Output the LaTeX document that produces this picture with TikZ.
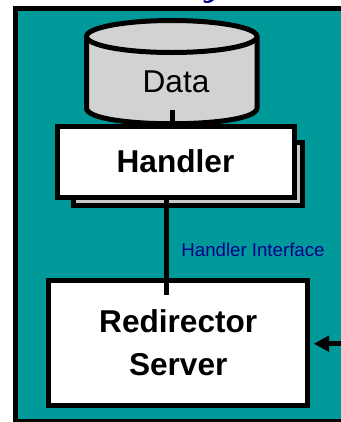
\documentclass[tikz,border=0pt]{standalone}
\usepackage{fontspec}
\setmainfont{Liberation Sans}
\usetikzlibrary{arrows.meta}
\definecolor{tealbg}{RGB}{0,153,153}
\definecolor{datagray}{RGB}{210,210,210}
\definecolor{backgray}{RGB}{200,200,200}
\definecolor{ifaceblue}{RGB}{0,0,140}
\tikzset{
	thickline/.style={line width=3.75pt},
	whitebox/.style={
		draw, thickline, fill=white, align=center, inner sep=0pt,
		font=\bfseries\fontsize{23.7}{32.25}\selectfont},
	backbox/.style={draw, thickline, fill=backgray, inner sep=0pt}
}

\begin{document}
\begin{tikzpicture}[x=0.75pt,y=0.75pt,yscale=-1,xscale=1]
\useasboundingbox (0,0) rectangle (341,422);
\clip (0,0) rectangle (341,422);

\draw [thickline, fill=tealbg]  (15.8,8) rectangle (360,421.8) ;

% speck left over from the cropped title
\fill [ifaceblue]  (203.5,0) .. controls (206,1.5) and (209,1.5) .. (210,0) -- (214,0) .. controls (211,3.5) and (206,3.5) .. (203.5,2.2) -- cycle ;

% data store
\draw [thickline, fill=datagray]  (86.5,36.5) -- (86.5,108) .. controls (86.5,129) and (257,129) .. (257,108) -- (257,36.5) ;
\draw [thickline, fill=datagray]  (171.75,36.5) ellipse [x radius=85.25, y radius=16] ;
\draw (176,82) node [font=\fontsize{23.7}{28}\selectfont] (data) {Data};

\draw (188,173.75) node [backbox, minimum width=171.75pt, minimum height=46.9pt] (handlerback) {};
\draw (175.5,161.5) node [whitebox, minimum width=177.75pt, minimum height=53.25pt] (handler) {Handler};
\draw (178.25,342.5) node [whitebox, minimum width=194.6pt, minimum height=93.75pt] (redirector) {Redirector\\Server};

\draw (253,249.5) node [text=ifaceblue, font=\fontsize{14}{16}\selectfont] (iface) {Handler Interface};

\coordinate (storeend) at (172.5,110);
\coordinate (redirend) at (166.7,294.5);
\coordinate (outside) at (345,343.7);

\draw [thickline]   (handler.north -| storeend) -- (storeend) ;
\draw [thickline]   (handler.south -| redirend) -- (redirend) ;
\draw [thickline, -{Triangle[length=11.5pt,width=11.5pt]}, shorten >=2.5pt]   (outside) -- (redirector.east |- outside) ;

\end{tikzpicture}
\end{document}
